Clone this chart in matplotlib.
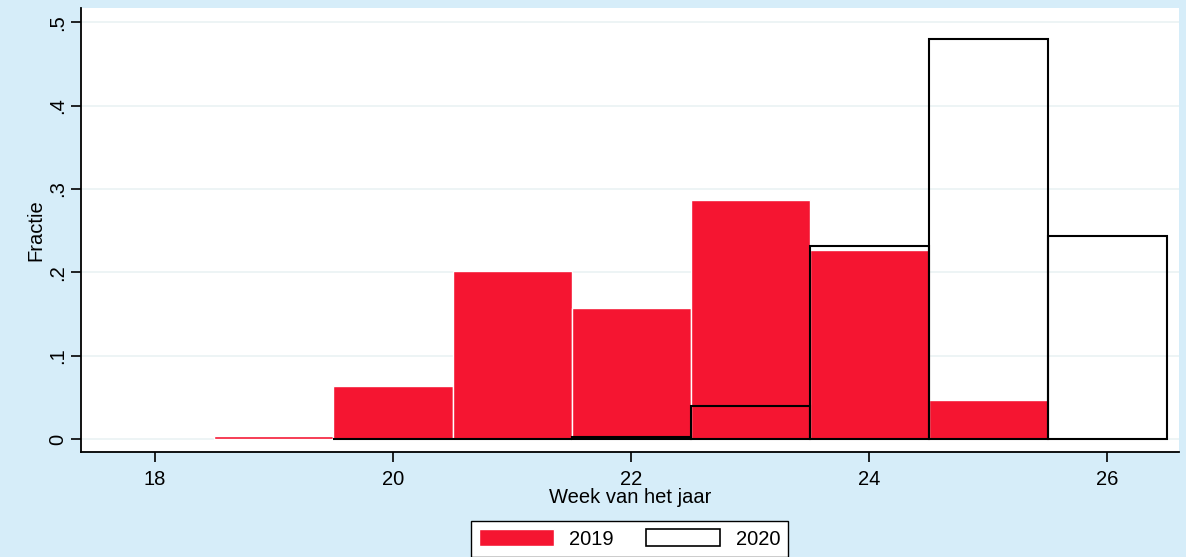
import matplotlib.pyplot as plt
from matplotlib.ticker import FixedLocator

plt.rcParams['font.family'] = ['Liberation Sans', 'DejaVu Sans']

weeks_2019 = [19, 20, 21, 22, 23, 24, 25, 26]
frac_2019 = [0.004, 0.0636, 0.201, 0.157, 0.287, 0.227, 0.047, 0.003]
weeks_2020 = [20, 21, 22, 23, 24, 25, 26]
frac_2020 = [0.0, 0.0, 0.003, 0.040, 0.232, 0.480, 0.244]
y_ticks = [0, 0.1, 0.2, 0.3, 0.4, 0.5]
y_tick_labels = ['0', '.1', '.2', '.3', '.4', '.5']
x_ticks = [18, 20, 22, 24, 26]

BG = '#D6EDF9'
RED = '#F51531'
FS = 14.5


def main():
    fig = plt.figure(figsize=(11.86, 5.57), dpi=100, facecolor=BG)
    ax = fig.add_axes([0.0683, 0.1885, 0.9257, 0.797])
    ax.set_facecolor('white')

    ax.bar(weeks_2019, frac_2019, width=1.0, color=RED, edgecolor='white', linewidth=1.0, zorder=2)
    ax.bar(weeks_2020, frac_2020, width=1.0, fill=False, edgecolor='black', linewidth=1.5, zorder=3)

    ax.set_xlim(17.38, 26.6)
    ax.set_ylim(-0.0156, 0.517)

    ax.yaxis.set_major_locator(FixedLocator(y_ticks))
    ax.set_yticklabels(y_tick_labels, rotation=90, va='center', fontsize=FS)
    ax.set_xticks(x_ticks)
    ax.set_xticklabels([str(t) for t in x_ticks], fontsize=FS)
    ax.grid(axis='y', color='#EAF2F4', linewidth=1.2, zorder=0)
    ax.set_axisbelow(True)

    for side in ['top', 'right']:
        ax.spines[side].set_visible(False)
    for side in ['left', 'bottom']:
        ax.spines[side].set_linewidth(1.3)
    ax.tick_params(axis='both', direction='out', length=7, width=1.2, colors='black')
    ax.tick_params(axis='x', pad=6)
    ax.tick_params(axis='y', pad=3)

    ax.set_xlabel('Week van het jaar', fontsize=FS, labelpad=-1)
    ax.set_ylabel('Fractie', fontsize=FS, labelpad=2)

    h1 = plt.Rectangle((0, 0), 1, 1, facecolor=RED, edgecolor='white')
    h2 = plt.Rectangle((0, 0), 1, 1, facecolor='white', edgecolor='black', linewidth=1.2)
    leg = fig.legend([h1, h2], ['2019', '2020'], loc='upper center', bbox_to_anchor=(0.531, 0.082),
                     ncol=2, fontsize=FS, handlelength=3.7, handleheight=0.9, handletextpad=0.75,
                     columnspacing=1.6, fancybox=False, framealpha=1, edgecolor='black', borderpad=0.4)
    leg.get_frame().set_linewidth(1.0)

    fig.savefig('out.png', dpi=100, facecolor=BG)


if __name__ == '__main__':
    main()
